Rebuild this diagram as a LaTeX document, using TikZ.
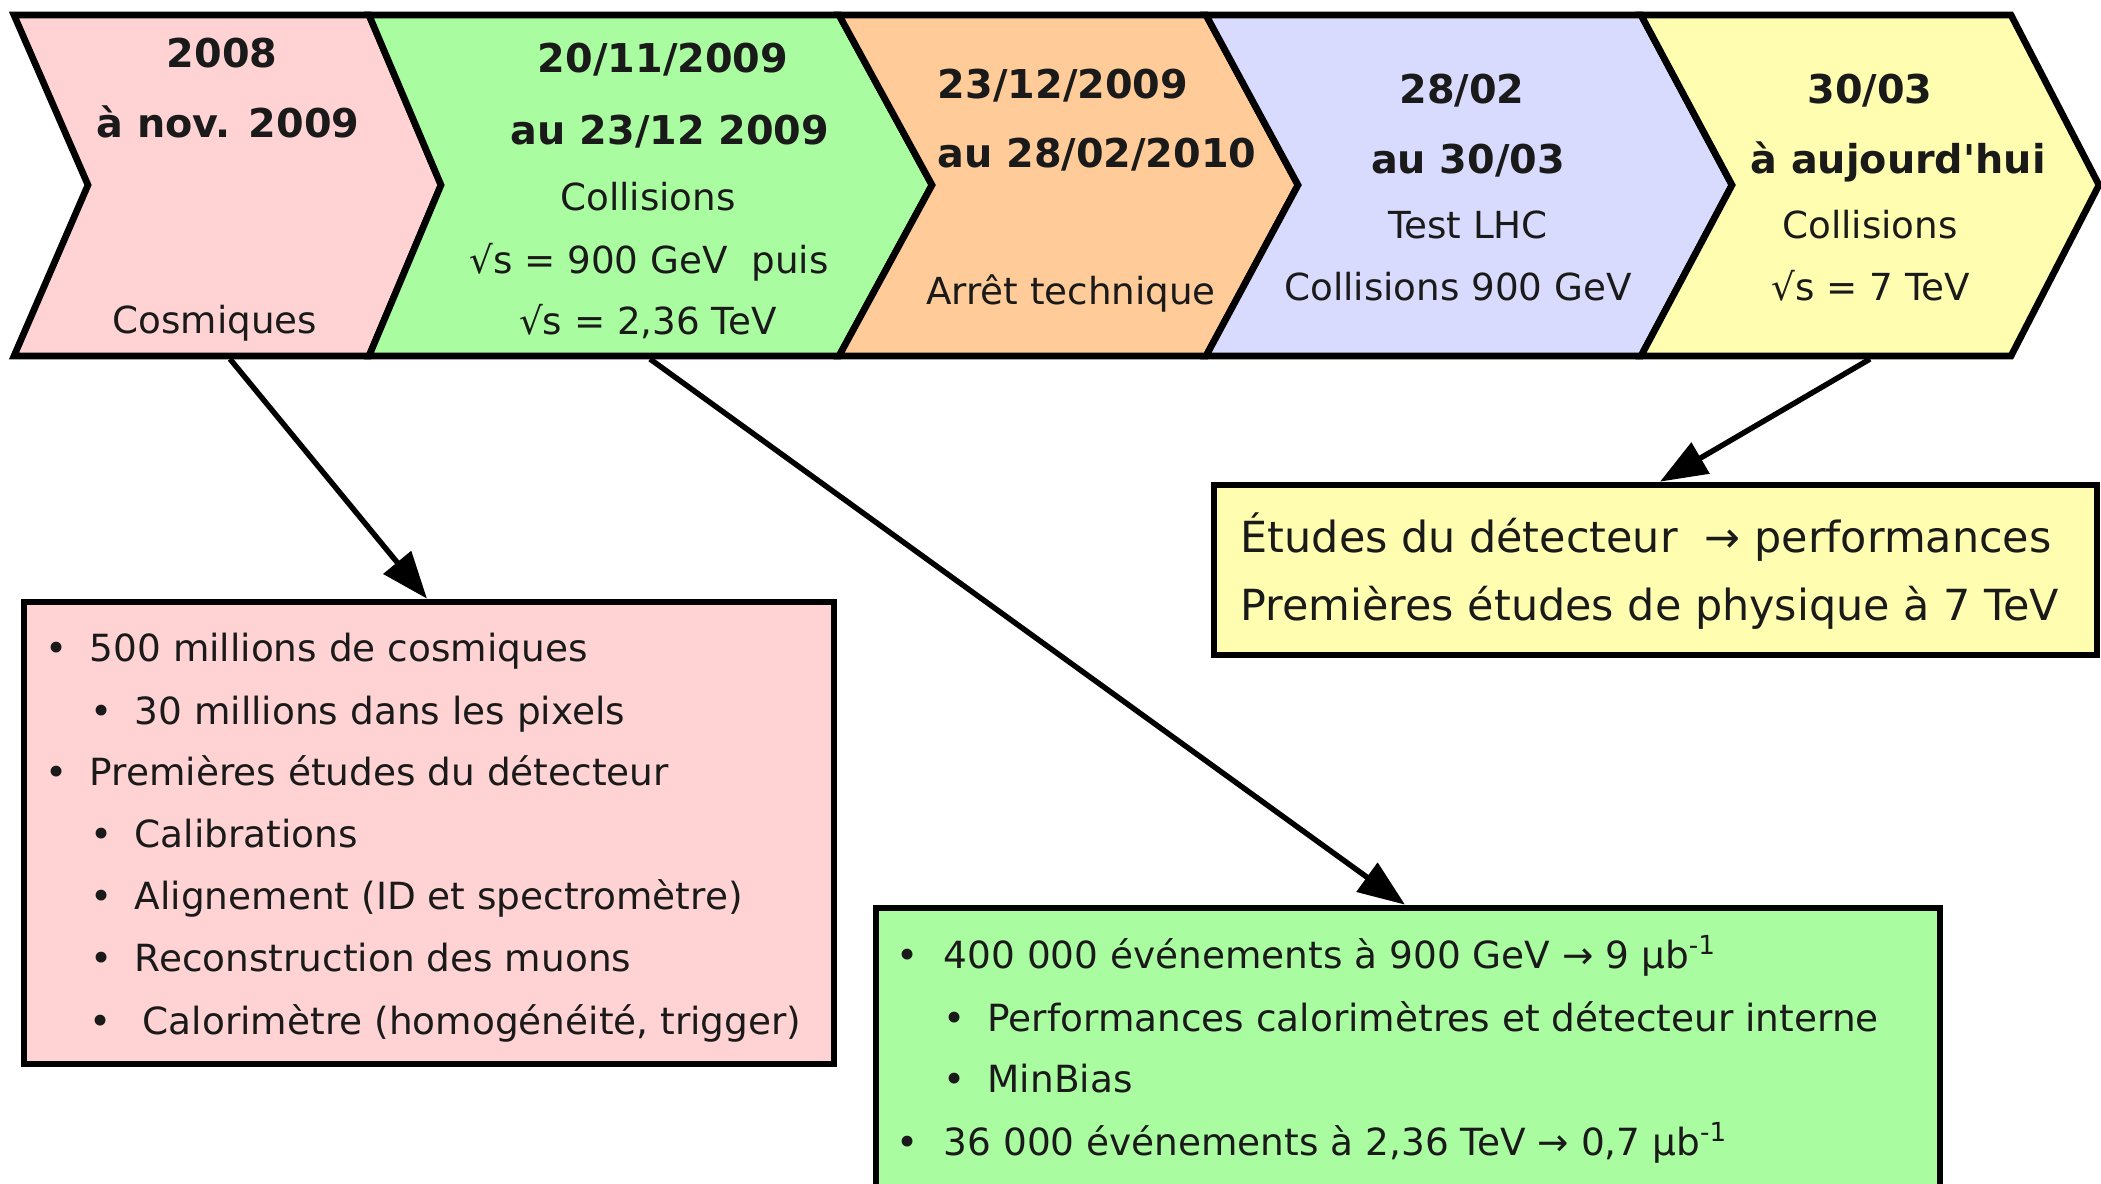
\documentclass[tikz,border=0pt]{standalone}
\usepackage{fontspec}
\setmainfont{DejaVu Sans}
\usetikzlibrary{arrows.meta}

\definecolor{encre}{HTML}{1A1A1A}
\definecolor{fondrose}{HTML}{FFD3D3}
\definecolor{fondvert}{HTML}{AAFCA0}
\definecolor{fondorange}{HTML}{FFCC99}
\definecolor{fondbleu}{HTML}{D8DBFD}
\definecolor{fondjaune}{HTML}{FFFDB0}

\newcommand{\puce}[1][6.3pt]{\llap{\textbullet\hspace{#1}}}

\tikzset{
  etape/.style={draw=black, line width=1.9pt},
  boite/.style={draw=black, line width=1.9pt, rectangle, inner sep=0pt},
  fleche/.style={-{Triangle[length=4.7mm,width=3.5mm]}, line width=1.55pt},
  titre/.style={anchor=base, inner sep=0pt, text=encre, font=\bfseries\fontsize{11.3}{13}\selectfont},
  corps/.style={anchor=base, inner sep=0pt, text=encre, font=\fontsize{10.6}{12}\selectfont},
  ligne/.style={anchor=base west, inner sep=0pt, text=encre, font=\fontsize{10.65}{12}\selectfont},
  grand/.style={anchor=base west, inner sep=0pt, text=encre, font=\fontsize{12.2}{14}\selectfont}
}

\begin{document}
\begin{tikzpicture}[y=-1cm]
  \useasboundingbox (0,0) rectangle (21.01,11.83);

  % frise
  \draw[etape, fill=fondrose] (0.14,0.15) -- (3.69,0.15) -- (4.41,1.85) -- (3.69,3.56) -- (0.14,3.56) -- (0.88,1.85) -- cycle;
  \draw[etape, fill=fondvert] (3.69,0.15) -- (8.39,0.15) -- (9.32,1.85) -- (8.39,3.56) -- (3.69,3.56) -- (4.41,1.85) -- cycle;
  \draw[etape, fill=fondorange] (8.39,0.15) -- (12.06,0.15) -- (12.98,1.85) -- (12.06,3.56) -- (8.39,3.56) -- (9.32,1.85) -- cycle;
  \draw[etape, fill=fondbleu] (12.06,0.15) -- (16.41,0.15) -- (17.32,1.85) -- (16.41,3.56) -- (12.06,3.56) -- (12.98,1.85) -- cycle;
  \draw[etape, fill=fondjaune] (16.41,0.15) -- (20.11,0.15) -- (20.99,1.85) -- (20.11,3.56) -- (16.41,3.56) -- (17.32,1.85) -- cycle;

  \node[titre] (d1a) at (2.22,0.67) {2008};
  \node[titre] (d1b) at (2.28,1.37) {à nov. 2009};
  \node[corps] (c1a) at (2.15,3.33) {Cosmiques};

  \node[titre] (d2a) at (6.63,0.72) {20/11/2009};
  \node[titre] (d2b) at (6.70,1.44) {au 23/12 2009};
  \node[corps] (c2a) at (6.48,2.10) {Collisions};
  \node[corps] (c2b) at (6.49,2.73) {√s = 900 GeV\ \ puis};
  \node[corps] (c2c) at (6.48,3.34) {√s = 2,36 TeV};

  \node[titre] (d3a) at (10.63,0.98) {23/12/2009};
  \node[titre] (d3b) at (10.97,1.67) {au 28/02/2010};
  \node[corps] (c3a) at (10.71,3.04) {Arrêt technique};

  \node[titre] (d4a) at (14.62,1.03) {28/02};
  \node[titre] (d4b) at (14.68,1.73) {au 30/03};
  \node[corps] (c4a) at (14.68,2.38) {Test LHC};
  \node[corps] (c4b) at (14.58,3.00) {Collisions 900 GeV};

  \node[titre] (d5a) at (18.70,1.03) {30/03};
  \node[titre] (d5b) at (18.98,1.73) {à aujourd\textquotesingle hui};
  \node[corps] (c5a) at (18.70,2.38) {Collisions};
  \node[corps] (c5b) at (18.71,3.00) {√s = 7 TeV};

  % boites
  \node[boite, fill=fondrose, minimum width=8.10cm, minimum height=4.62cm] (cosmbox) at (4.29,8.33) {};
  \node[boite, fill=fondvert, minimum width=10.64cm, minimum height=3.02cm] (collbox) at (14.08,10.59) {};
  \node[boite, fill=fondjaune, minimum width=8.83cm, minimum height=1.70cm] (septbox) at (16.555,5.70) {};

  \node[ligne] (l1) at (0.89,6.61) {\puce 500 millions de cosmiques};
  \node[ligne] (l2) at (1.34,7.24) {\puce 30 millions dans les pixels};
  \node[ligne] (l3) at (0.89,7.85) {\puce Premières études du détecteur};
  \node[ligne] (l4) at (1.34,8.47) {\puce Calibrations};
  \node[ligne] (l5) at (1.34,9.09) {\puce Alignement (ID et spectromètre)};
  \node[ligne] (l6) at (1.34,9.71) {\puce Reconstruction des muons};
  \node[ligne] (l7) at (1.42,10.34) {\puce[8.9pt]Calorimètre (homogénéité, trigger)};

  \node[ligne] (m1) at (9.43,9.68) {\puce[7.1pt]400 000 événements à 900 GeV → 9 µb\textsuperscript{-1}};
  \node[ligne] (m2) at (9.87,10.31) {\puce Performances calorimètres et détecteur interne};
  \node[ligne] (m3) at (9.87,10.92) {\puce MinBias};
  \node[ligne] (m4) at (9.43,11.55) {\puce[7.1pt]36 000 événements à 2,36 TeV → 0,7 µb\textsuperscript{-1}};

  \node[grand] (s1) at (12.40,5.52) {Études du détecteur\ \ → performances};
  \node[grand] (s2) at (12.40,6.20) {Premières études de physique à 7 TeV};

  % fleches
  \coordinate (dep1) at (2.30,3.59);
  \coordinate (dep2) at (6.50,3.59);
  \coordinate (dep5) at (18.70,3.59);
  \draw[fleche] (dep1) -- (cosmbox.north -| 4.27,0);
  \draw[fleche] (dep2) -- (collbox.north -| 14.05,0);
  \draw[fleche] (dep5) -- (septbox.north -| 16.60,0);
\end{tikzpicture}
\end{document}
